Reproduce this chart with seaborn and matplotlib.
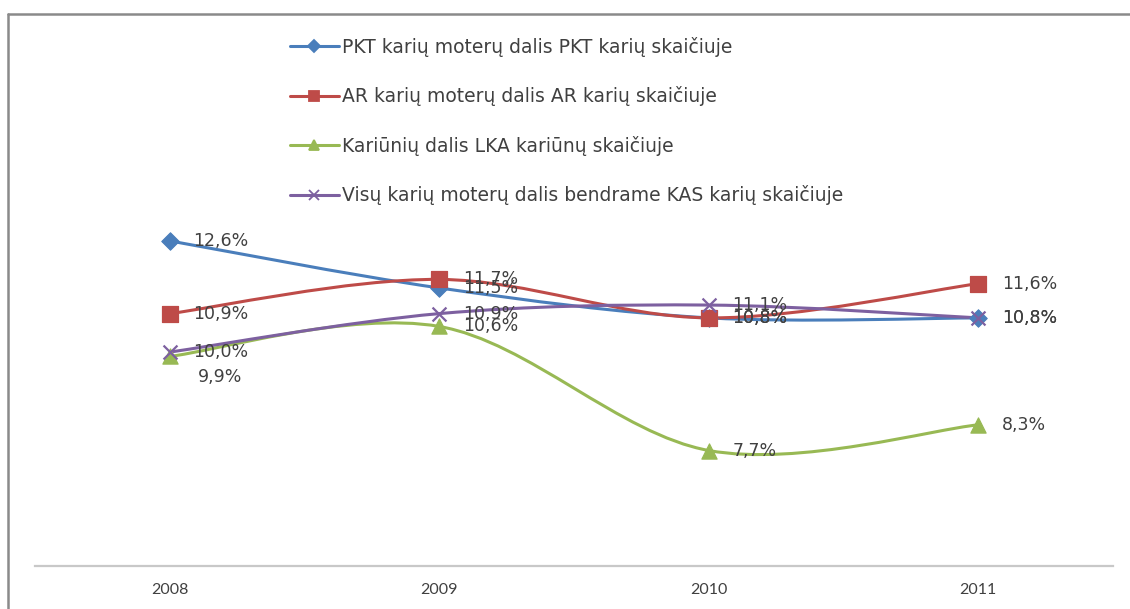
import matplotlib
matplotlib.use("Agg")
import matplotlib.pyplot as plt
from matplotlib.lines import Line2D
from matplotlib.path import Path
from matplotlib.patches import PathPatch
import numpy as np
import pandas as pd
import seaborn as sns

# data
years = ["2008", "2009", "2010", "2011"]
pkt = [12.6, 11.5, 10.8, 10.8]
ar = [10.9, 11.7, 10.8, 11.6]
lka = [9.9, 10.6, 7.7, 8.3]
kas = [10.0, 10.9, 11.1, 10.8]

names = [
    "PKT karių moterų dalis PKT karių skaičiuje",
    "AR karių moterų dalis AR karių skaičiuje",
    "Kariūnių dalis LKA kariūnų skaičiuje",
    "Visų karių moterų dalis bendrame KAS karių skaičiuje",
]
colors = ["#4A7EBB", "#BE4B48", "#98B954", "#7D60A0"]
markers = ["D", "s", "^", "x"]
marker_sizes = [80, 120, 120, 100]

df = pd.DataFrame({
    "year": years * 4,
    "pos": list(range(len(years))) * 4,
    "value": pkt + ar + lka + kas,
    "series": [n for n in names for _ in years],
})


def smooth_path(xs, ys):
    """Excel-like smoothed line (Catmull-Rom as cubic Bezier)."""
    pts = np.column_stack([xs, ys]).astype(float)
    n = len(pts)
    verts = [pts[0]]
    codes = [Path.MOVETO]
    for i in range(n - 1):
        p0 = pts[max(i - 1, 0)]
        p1 = pts[i]
        p2 = pts[i + 1]
        p3 = pts[min(i + 2, n - 1)]
        verts += [p1 + (p2 - p0) / 6, p2 - (p3 - p1) / 6, p2]
        codes += [Path.CURVE4] * 3
    return Path(verts, codes)


sns.set_theme(style="white")
plt.rcParams["font.family"] = ["DejaVu Sans"]

fig = plt.figure(figsize=(11.3, 6.09), dpi=100)
ax = fig.add_axes([35 / 1130, 43 / 609, 1078 / 1130, 385 / 609])

text_color = "#404040"
handles = []
for i, name in enumerate(names):
    sub = df[df["series"] == name]
    path = smooth_path(sub["pos"], sub["value"])
    ax.add_patch(PathPatch(path, facecolor="none", edgecolor=colors[i],
                           lw=2.2, zorder=2 + i))
    if markers[i] == "x":
        sns.scatterplot(data=sub, x="pos", y="value", marker="x", color=colors[i],
                        s=marker_sizes[i], linewidth=1.6, ax=ax, zorder=10 + i,
                        legend=False)
    else:
        sns.scatterplot(data=sub, x="pos", y="value", marker=markers[i],
                        color=colors[i], edgecolor=colors[i], s=marker_sizes[i],
                        ax=ax, zorder=10 + i, legend=False)
    handles.append(Line2D([], [], color=colors[i], lw=2.2, marker=markers[i],
                          markersize=6.5, markeredgewidth=1.3, label=name))

# data labels (mostly right of the point)
label_offsets = {(2, 0): (20, -15)}
for i, name in enumerate(names):
    sub = df[df["series"] == name]
    for j, (x, v) in enumerate(zip(sub["pos"], sub["value"])):
        dx, dy = label_offsets.get((i, j), (17, 0))
        ax.annotate(f"{v:.1f}%".replace(".", ","), (x, v), xytext=(dx, dy),
                    textcoords="offset points", ha="left", va="center",
                    fontsize=12.5, color=text_color, zorder=20)

ax.set_xlim(-0.5, 3.5)
ax.set_ylim(5, 14)
ax.set_xticks(range(len(years)))
ax.set_xticklabels(years, family="Lato", fontsize=11.5, color=text_color)
ax.set_yticks([])
ax.tick_params(axis="x", length=0, pad=12)
ax.set_xlabel("")
ax.set_ylabel("")
for side in ["top", "left", "right"]:
    ax.spines[side].set_visible(False)
ax.spines["bottom"].set_color("#C8C8C8")
ax.spines["bottom"].set_linewidth(1.6)

fig.legend(handles=handles, loc="upper left",
           bbox_to_anchor=(290 / 1130, 1 - 37 / 609), frameon=False,
           fontsize=13.5, handlelength=2.6, handletextpad=0.15,
           labelspacing=1.57, borderpad=0, borderaxespad=0,
           labelcolor=text_color)

# chart frame (top and left edges)
fig.add_artist(Line2D([8 / 1130, 1], [1 - 14 / 609] * 2, color="#8A8A8A",
                      lw=1.8, transform=fig.transFigure))
fig.add_artist(Line2D([8 / 1130] * 2, [0, 1 - 14 / 609], color="#8A8A8A",
                      lw=1.8, transform=fig.transFigure))

fig.savefig("out.png", dpi=100)
